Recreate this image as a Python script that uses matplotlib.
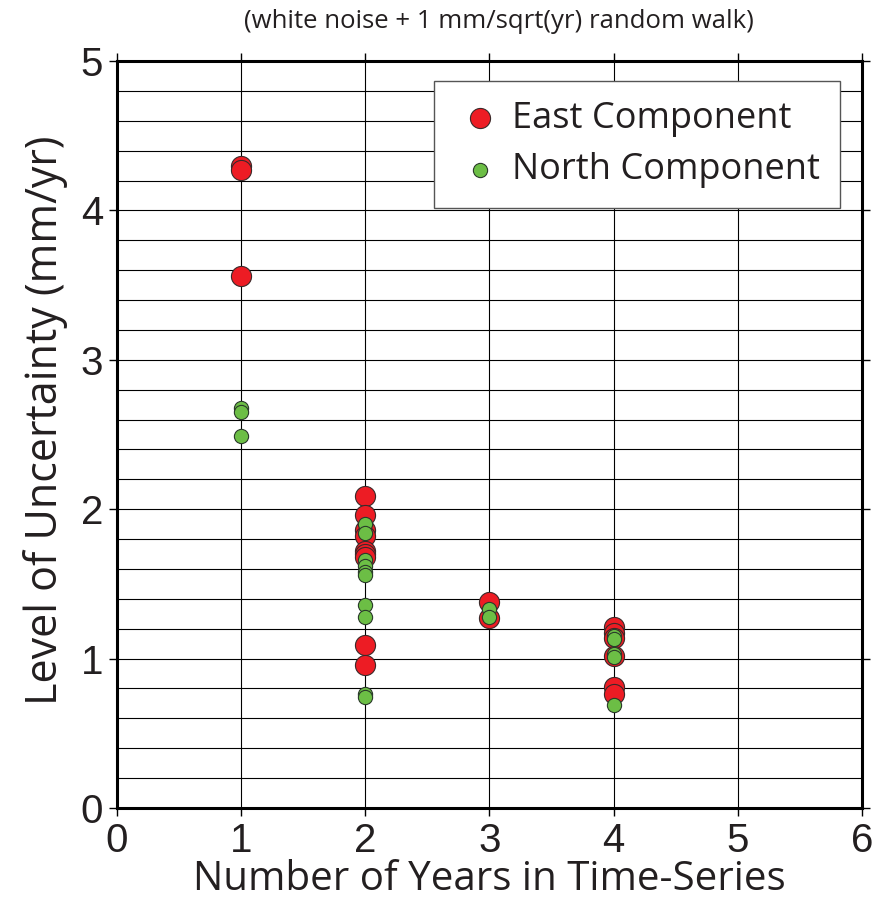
import matplotlib
matplotlib.use("Agg")
import matplotlib.pyplot as plt
import numpy as np

east_x = [1, 1, 1,
          2, 2, 2, 2, 2, 2, 2, 2, 2,
          3, 3,
          4, 4, 4, 4, 4, 4]
east_y = [4.30, 4.27, 3.56,
          2.09, 1.96, 1.86, 1.82, 1.72, 1.70, 1.68, 1.09, 0.96,
          1.38, 1.27,
          1.21, 1.17, 1.14, 1.02, 0.81, 0.76]
north_x = [1, 1, 1,
           2, 2, 2, 2, 2, 2, 2, 2, 2, 2,
           3, 3,
           4, 4, 4, 4, 4]
north_y = [2.68, 2.65, 2.49,
           1.90, 1.84, 1.66, 1.62, 1.58, 1.56, 1.36, 1.28, 0.76, 0.74,
           1.33, 1.28,
           1.15, 1.13, 1.03, 1.01, 0.69]

title = "(white noise + 1 mm/sqrt(yr) random walk)"
xlabel = "Number of Years in Time-Series"
ylabel = "Level of Uncertainty (mm/yr)"

fig = plt.figure(figsize=(8.79, 9.11), dpi=100)
ax = fig.add_axes([117/879, 1-808/911, (862-117)/879, (808-61)/911])

ax.set_xlim(0, 6)
ax.set_ylim(0, 5)
ax.set_xticks(range(0, 7))
ax.set_yticks(range(0, 6))
ax.set_yticks(np.arange(0, 5.01, 0.2), minor=True)
ax.grid(True, which='major', axis='x', color='black', lw=0.8)
ax.grid(True, which='minor', axis='y', color='black', lw=0.8)
ax.grid(True, which='major', axis='y', color='black', lw=0.8)
ax.set_axisbelow(True)

ax.scatter(east_x, east_y, s=210, c='#ED1C24', edgecolors='#3a2a2a', linewidths=0.8,
           zorder=3, label='East Component')
ax.scatter(north_x, north_y, s=105, c='#6CBE45', edgecolors='#2a3a2a', linewidths=0.8,
           zorder=4, label='North Component')

for s in ax.spines.values():
    s.set_linewidth(2.2)
ax.tick_params(axis='both', which='major', direction='out', length=6, width=1,
               labelsize=29, labelcolor='#231f20', top=True, right=True,
               labeltop=False, labelright=False, pad=4)
ax.tick_params(axis='y', which='minor', length=0)
for lab in ax.get_xticklabels() + ax.get_yticklabels():
    lab.set_fontfamily('Liberation Sans')

ax.set_xlabel(xlabel, fontsize=29, family='Open Sans', color='#231f20', labelpad=0)
ax.set_ylabel(ylabel, fontsize=31, family='Open Sans', color='#231f20')
ax.yaxis.set_label_coords(-0.066, (808-420)/747)
fig.text(499/879, 1-22/911, title, ha='center', va='center', fontsize=18.5,
         family='Open Sans', color='#231f20')

leg = ax.legend(loc='upper right', bbox_to_anchor=((840-117)/745, (808-81)/747),
                frameon=True, fancybox=False, edgecolor='#555555',
                framealpha=1, borderpad=0.55, handletextpad=0.2, labelspacing=0.42,
                handlelength=1.4, borderaxespad=0, markerscale=1.0,
                prop={'family': 'Open Sans', 'size': 26})
leg.get_frame().set_linewidth(1.0)
for t in leg.get_texts():
    t.set_color('#231f20')

fig.savefig('out.png', dpi=100)
